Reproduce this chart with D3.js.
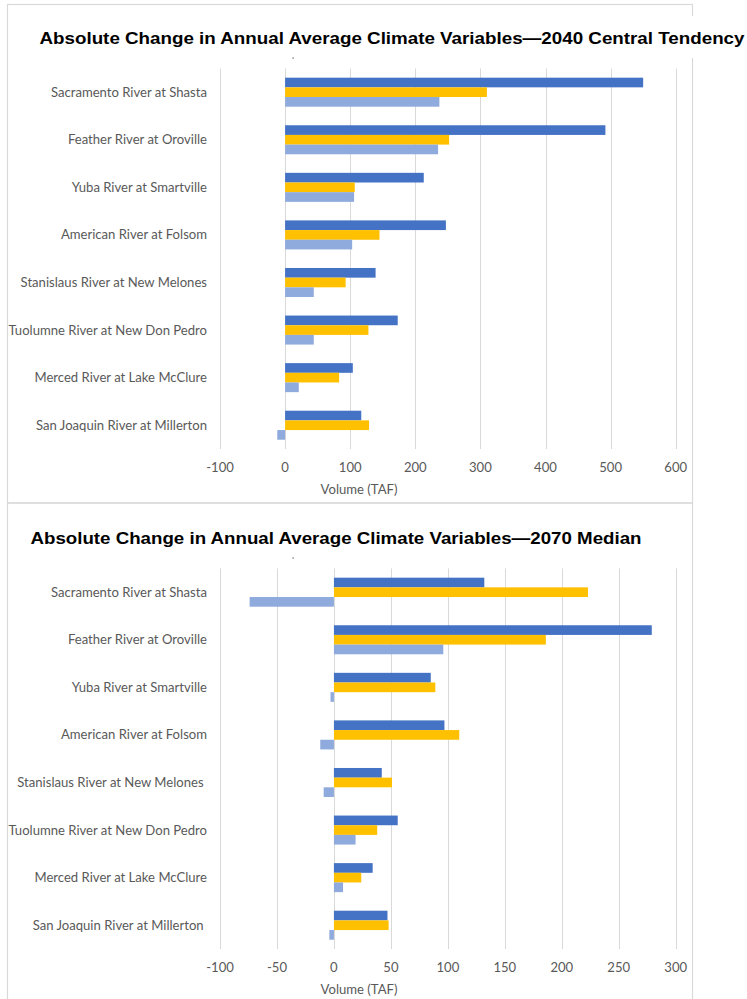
<!DOCTYPE html>
<html lang="en">
<head>
<meta charset="utf-8">
<title>Absolute Change in Annual Average Climate Variables</title>
<script src="https://cdn.jsdelivr.net/npm/d3@7"></script>
<style type="text/css">
body { margin: 0; background: #ffffff; }
svg { display: block; }
.cat, .tick-label, .axis-title { font-family: Lato, "Open Sans", sans-serif; fill: #595959; }
.title { font-family: "Liberation Sans", Arial, sans-serif; font-weight: bold; fill: #000000; }
</style>
</head>
<body>
<script type="text/javascript">

// categories (same order in both panels)
var rivers = [
    "Sacramento River at Shasta",
    "Feather River at Oroville",
    "Yuba River at Smartville",
    "American River at Folsom",
    "Stanislaus River at New Melones",
    "Tuolumne River at New Don Pedro",
    "Merced River at Lake McClure",
    "San Joaquin River at Millerton"
];

// 2040 central tendency, volume (TAF), one array per bar colour
var top_dark   = [550, 492, 213, 247, 139, 173, 104, 117];
var top_yellow = [310, 252, 107, 145,  93, 128,  83, 129];
var top_light  = [237, 235, 106, 103,  44,  44,  21, -12];

// 2070 median
var bot_dark   = [132, 279,  85,  97,  42,  56,  34,  47];
var bot_yellow = [223, 186,  89, 110,  51,  38,  24,  48];
var bot_light  = [-74,  96,  -3, -12,  -9,  19,   8,  -4];

var top_ticks = [-100, 0, 100, 200, 300, 400, 500, 600];
var bot_ticks = [-100, -50, 0, 50, 100, 150, 200, 250, 300];

var colors = ["#4472C4", "#FFC000", "#8FAADC"];

//Width and height
var w = 747;
var h = 999;

var svg = d3.select("body")
    .append("svg")
    .attr("width", w)
    .attr("height", h);

svg.append("rect")
    .attr("width", w)
    .attr("height", h)
    .attr("fill", "#ffffff");

// chart area outlines
svg.append("rect")
    .attr("x", 7.5).attr("y", 4.5)
    .attr("width", 685).attr("height", 498.5)
    .attr("fill", "none")
    .attr("stroke", "#d9d9d9")
    .attr("stroke-width", 1.2);
svg.append("rect")
    .attr("x", 7.5).attr("y", 503)
    .attr("width", 685).attr("height", 510)
    .attr("fill", "none")
    .attr("stroke", "#d9d9d9")
    .attr("stroke-width", 1.2);

function panel(opt) {
    var g = svg.append("g").attr("transform", "translate(0," + opt.dy + ")");

    var xScale = d3.scaleLinear()
        .domain(opt.domain)
        .range([220, 675.7]);

    var yScale = d3.scaleBand()
        .domain(rivers)
        .range([68.4, 449])
        .paddingInner(0.39)
        .paddingOuter(0.195);

    var inner = d3.scaleBand()
        .domain([0, 1, 2])
        .range([0, yScale.bandwidth()]);

    // gridlines
    g.selectAll("line.grid")
        .data(opt.ticks)
        .enter()
        .append("line")
        .attr("class", "grid")
        .attr("x1", function(d) { return Math.round(xScale(d)) + 0.5; })
        .attr("x2", function(d) { return Math.round(xScale(d)) + 0.5; })
        .attr("y1", 68.4)
        .attr("y2", 449)
        .attr("stroke", "#d9d9d9")
        .attr("stroke-width", 1);

    // bars
    var series = [opt.dark, opt.yellow, opt.light];
    series.forEach(function(vals, s) {
        g.selectAll("rect.s" + s)
            .data(vals)
            .enter()
            .append("rect")
            .attr("class", "s" + s)
            .attr("x", function(d) { return xScale(Math.min(0, d)); })
            .attr("y", function(d, i) { return yScale(rivers[i]) + inner(s); })
            .attr("width", function(d) { return Math.abs(xScale(d) - xScale(0)); })
            .attr("height", inner.bandwidth())
            .attr("fill", colors[s]);
    });

    // category labels
    g.selectAll("text.cat")
        .data(opt.labels)
        .enter()
        .append("text")
        .attr("class", "cat")
        .attr("x", 207)
        .attr("y", function(d, i) { return yScale(rivers[i]) + yScale.bandwidth() / 2; })
        .attr("dy", "0.35em")
        .attr("text-anchor", "end")
        .style("white-space", "pre")
        .style("font-size", "13.1px")
        .text(function(d) { return d; });

    // tick labels
    g.selectAll("text.tick-label")
        .data(opt.ticks)
        .enter()
        .append("text")
        .attr("class", "tick-label")
        .attr("x", function(d) { return xScale(d); })
        .attr("y", 467.7)
        .attr("dy", "0.35em")
        .attr("text-anchor", "middle")
        .style("font-size", "13.1px")
        .text(function(d) { return d; });

    g.append("text")
        .attr("class", "axis-title")
        .attr("x", 359)
        .attr("y", 489)
        .attr("dy", "0.35em")
        .attr("text-anchor", "middle")
        .style("font-size", "13.1px")
        .text("Volume (TAF)");

    // title sits on a white patch (it runs over the outline on the right)
    g.append("rect")
        .attr("x", opt.titleX - 4)
        .attr("y", 16)
        .attr("width", opt.titleW + 8)
        .attr("height", 42)
        .attr("fill", "#ffffff");

    g.append("text")
        .attr("class", "title")
        .attr("x", opt.titleX)
        .attr("y", 43.5)
        .attr("textLength", opt.titleW)
        .attr("lengthAdjust", "spacingAndGlyphs")
        .style("font-size", "16.8px")
        .text(opt.title);

    // tiny stray mark under the title
    g.append("rect")
        .attr("x", 292.5).attr("y", 57.5)
        .attr("width", 1.2).attr("height", 1.2)
        .attr("fill", "#555555");
}

panel({
    dy: 0,
    domain: [-100, 600],
    ticks: top_ticks,
    dark: top_dark, yellow: top_yellow, light: top_light,
    labels: rivers,
    title: "Absolute Change in Annual Average Climate Variables\u20142040 Central Tendency",
    titleX: 39.5,
    titleW: 705
});

panel({
    dy: 500,
    domain: [-100, 300],
    ticks: bot_ticks,
    dark: bot_dark, yellow: bot_yellow, light: bot_light,
    labels: rivers.map(function(r) {
        return (r.indexOf("Stanislaus") === 0 || r.indexOf("San Joaquin") === 0) ? r + " " : r;
    }),
    title: "Absolute Change in Annual Average Climate Variables\u20142070 Median",
    titleX: 30.5,
    titleW: 611
});

</script>
</body>
</html>
